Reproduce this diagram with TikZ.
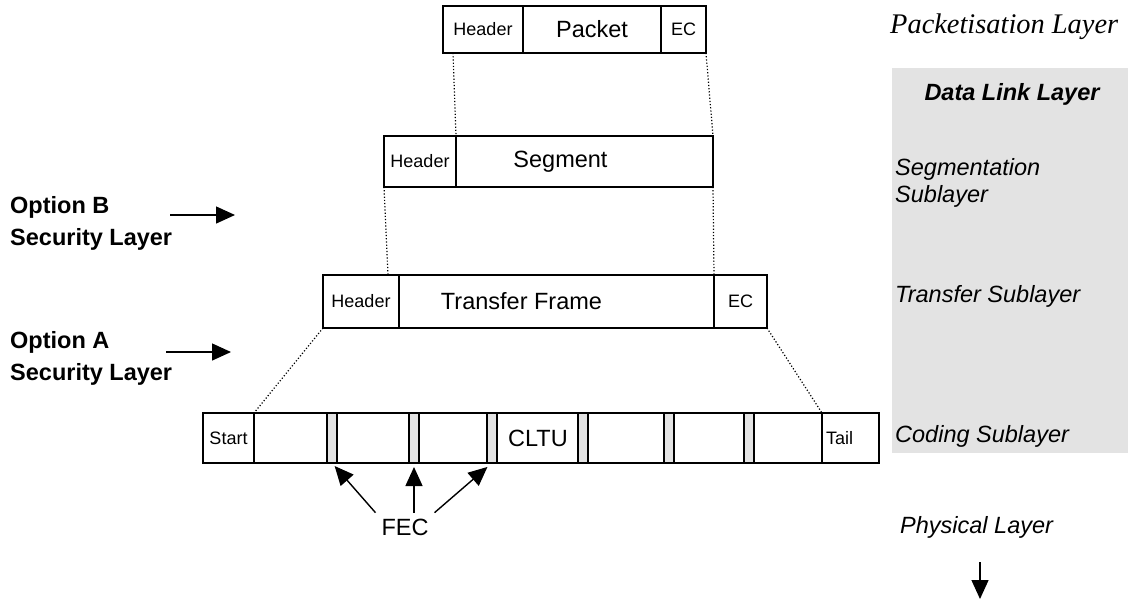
\documentclass[tikz,border=0pt]{standalone}
\usepackage{fontspec}
\setmainfont{Liberation Serif}
\setsansfont{Liberation Sans}
\usetikzlibrary{arrows.meta,calc,positioning}
\definecolor{panelgray}{HTML}{E3E3E3}
\tikzset{
  cell/.style={draw, line width=2pt, inner sep=0pt, outer sep=0pt, minimum height=#1, font=\sffamily\fontsize{23.5}{28}\selectfont},
  small/.style={font=\sffamily\fontsize{18}{22}\selectfont},
  slot/.style={draw, fill=panelgray, line width=1.6pt, inner sep=0pt, outer sep=0pt, minimum width=10pt, minimum height=50pt, anchor=north west},
  map/.style={dotted, line width=1.2pt},
  arr/.style={line width=1.4pt, -{Triangle[length=19pt,width=17pt]}},
  opt/.style={font=\sffamily\bfseries\fontsize{23.5}{32}\selectfont, align=left, inner sep=0pt, anchor=north west},
  lyr/.style={font=\sffamily\itshape\fontsize{23.5}{27}\selectfont, align=left, inner sep=0pt, anchor=base west},
}

\begin{document}
\begin{tikzpicture}[x=1pt,y=-1pt]
			%%%%% START %%%%%
			\useasboundingbox (0,0) rectangle (1128,600);
			\fill[panelgray] (892,68) rectangle (1128,453);
			
			\node[cell=47pt, small, minimum width=80pt, anchor=north west] (pkthdr) at (443,6) {Header};
			\node[cell=47pt, minimum width=138pt, right=0pt of pkthdr] (pkt) {Packet};
			\node[cell=47pt, small, minimum width=45pt, right=0pt of pkt] (pktec) {EC};
			
			\node[cell=51pt, small, minimum width=72pt, anchor=north west] (seghdr) at (384,136) {Header};
			\node[cell=51pt, minimum width=257pt, right=0pt of seghdr] (seg) {Segment\hspace*{48pt}};
			
			\node[cell=53pt, small, minimum width=76pt, anchor=north west] (tfhdr) at (323,275) {Header};
			\node[cell=53pt, minimum width=315pt, right=0pt of tfhdr] (tf) {Transfer Frame\hspace*{70pt}};
			\node[cell=53pt, small, minimum width=53pt, right=0pt of tf] (tfec) {EC};
			
			\node[cell=50pt, small, minimum width=51pt, anchor=north west] (start) at (203,413) {Start};
			\node[cell=50pt, minimum width=568pt, right=0pt of start] (cltu) {CLTU};
			\node[cell=50pt, small, minimum width=57pt, right=0pt of cltu] (tail) {Tail\hspace*{22pt}};
			\foreach \x [count=\i] in {327,409,487,578,664,744}
				\node[slot] (slot\i) at (\x,413) {};
			
			\draw[map] ($(pkthdr.south west)+(10,0)$) -- (seghdr.north east);
			\draw[map] (pktec.south east) -- (seg.north east);
			\draw[map] (seghdr.south west) -- ($(tfhdr.north west)+(65,0)$);
			\draw[map] (seg.south east) -- (tf.north east);
			\draw[map] (tfhdr.south west) -- (cltu.north west);
			\draw[map] (tfec.south east) -- (tail.north west);
			
			\node[cell=20pt, draw=none, inner sep=6pt] (fec) at (405,527) {FEC};
			\draw[arr, shorten >=4pt] (fec.north west) -- (slot1.south);
			\draw[arr, shorten >=4pt] (fec.north -| slot2.south) -- (slot2.south);
			\draw[arr, shorten >=6pt] (fec.north east) -- (slot3.south);
			
			\node[opt] (optB) at (10,196) {Option B\\Security Layer};
			\coordinate (optB-from) at (170,215);
			\coordinate (optB-to) at (235,215);
			\draw[arr] (optB-from) -- (optB-to);
			\node[opt] (optA) at (10,331) {Option A\\Security Layer};
			\coordinate (optA-from) at (166,352);
			\coordinate (optA-to) at (231,352);
			\draw[arr] (optA-from) -- (optA-to);
			
			\node[font=\rmfamily\itshape\fontsize{28.4}{34}\selectfont, inner sep=0pt, anchor=base west] (pktlayer) at (890,33) {Packetisation Layer};
			\node[font=\sffamily\bfseries\itshape\fontsize{23.5}{28}\selectfont, inner sep=0pt, anchor=base] (dll) at (1012,100) {Data Link Layer};
			\node[lyr, anchor=north west] (segl) at (895,158) {Segmentation\\Sublayer};
			\node[lyr] (tfl) at (895,302) {Transfer Sublayer};
			\node[lyr] (codl) at (895,442) {Coding Sublayer};
			\node[lyr] (phyl) at (900,533) {Physical Layer};
			\coordinate (down-from) at (980,562);
			\coordinate (down-to) at (980,599);
			\draw[arr] (down-from) -- (down-to);
			%%%%% END %%%%%
\end{tikzpicture}
\end{document}
